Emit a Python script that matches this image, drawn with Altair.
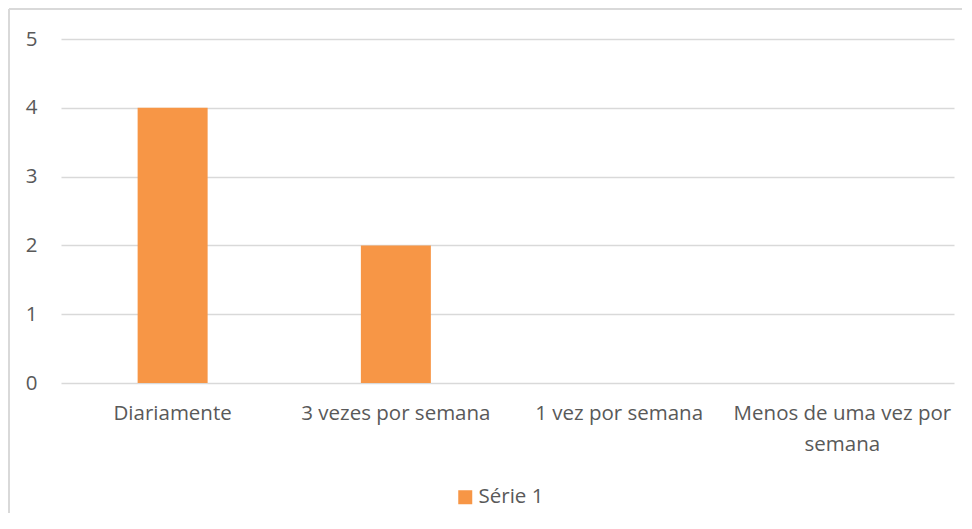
import altair as alt
import pandas as pd

categories = ["Diariamente", "3 vezes por semana", "1 vez por semana", "Menos de uma vez por semana"]
values = [4, 2, 0, 0]
series = ["Série 1"] * 4

df = pd.DataFrame({"categoria": categories, "valor": values, "serie": series})

FONT = "Open Sans"
TXT = "#595959"
GRID = "#d9d9d9"
FS = 20.5

label_expr = (
    "datum.value == 'Menos de uma vez por semana' ? "
    "['Menos de uma vez por', 'semana'] : datum.value"
)

bars = alt.Chart(df).mark_bar(size=70).encode(
    x=alt.X(
        "categoria:N",
        sort=categories,
        title=None,
        scale=alt.Scale(paddingInner=0, paddingOuter=0),
        axis=alt.Axis(
            labelAngle=0,
            labelFont=FONT,
            labelFontSize=FS,
            labelColor=TXT,
            labelPadding=20,
            labelLineHeight=31,
            labelLimit=0,
            labelExpr=label_expr,
            ticks=False,
            domain=False,
            grid=False,
        ),
    ),
    y=alt.Y(
        "valor:Q",
        title=None,
        scale=alt.Scale(domain=[0, 5]),
        axis=alt.Axis(
            values=[0, 1, 2, 3, 4, 5],
            labelFont=FONT,
            labelFontSize=FS,
            labelColor=TXT,
            labelPadding=24,
            ticks=False,
            domain=False,
            grid=True,
            gridColor=GRID,
            gridWidth=1.5,
        ),
    ),
    color=alt.Color(
        "serie:N",
        scale=alt.Scale(range=["#F79646"]),
        legend=alt.Legend(
            title=None,
            orient="none",
            legendX=394,
            legendY=448,
            symbolType="square",
            symbolSize=196,
            symbolStrokeWidth=0,
            labelFont=FONT,
            labelFontSize=FS,
            labelColor=TXT,
            labelOffset=3,
        ),
    ),
)

frame_top = alt.Chart(df).mark_rule(color=GRID, strokeWidth=1.5).encode(
    x=alt.value(-52), x2=alt.value(915), y=alt.value(-30)
)
frame_left = alt.Chart(df).mark_rule(color=GRID, strokeWidth=1.5).encode(
    x=alt.value(-52), y=alt.value(-30), y2=alt.value(495)
)

chart = (
    alt.layer(frame_top, frame_left, bars)
    .properties(
        width=893,
        height=344,
        autosize=alt.AutoSizeParams(type="none"),
        padding={"left": 53, "top": 31, "right": 8, "bottom": 130},
        view=alt.ViewBackground(strokeOpacity=0, strokeWidth=0),
    )
    .configure_view(stroke="transparent", strokeWidth=0, strokeOpacity=0)
    .configure(background="white")
)

chart.save("out.html", embed_options={"renderer": "svg", "actions": False})
